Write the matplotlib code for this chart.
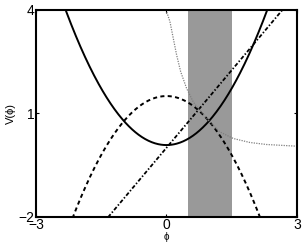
import numpy as np
import matplotlib
matplotlib.use('Agg')
import matplotlib.pyplot as plt

# curve parameters
quad_min = 0.08      # solid: V = quad_min + quad_a * phi^2
quad_a = 0.73
hill_top = 1.5       # dashed: V = hill_top - hill_b * phi^2
hill_b = 0.76
line_slope = 1.5     # dash-dot: V = line_slope * phi
band = [0.5, 1.5]

# dotted grey curve
dot_phi = [-0.01, 0.08, 0.156, 0.234, 0.326, 0.464, 0.616, 0.731, 1.0,
           1.23, 1.536, 1.92, 2.30, 3.0]
dot_v = [4.0, 3.66, 3.18, 2.69, 2.21, 1.72, 1.33, 1.14, 0.75,
         0.46, 0.27, 0.154, 0.096, 0.047]

x_ticks = [-3, 0, 3]
y_ticks = [-2, 1, 4]

plt.rcParams['font.family'] = ['Liberation Sans', 'DejaVu Sans']

phi = np.linspace(-3, 3, 400)

fig = plt.figure(figsize=(3.04, 2.45), dpi=100)
ax = fig.add_axes([0.118, 0.115, 0.859, 0.845])

ax.axvspan(band[0], band[1], color='#999999', lw=0, zorder=0)
ax.plot(phi, quad_min + quad_a * phi**2, 'k-', lw=1.4)
ax.plot(phi, hill_top - hill_b * phi**2, 'k--', lw=1.4, dashes=(2.1, 1.7))
ax.plot(phi, line_slope * phi, 'k-.', lw=1.3, dashes=(2.2, 1.1, 0.8, 1.1))
ax.plot(dot_phi, dot_v, color='#808080', lw=0.9, dashes=(1, 1))

ax.set_xlim(-3, 3)
ax.set_ylim(-2, 4)
ax.set_xticks(x_ticks)
ax.set_yticks(y_ticks)
ax.tick_params(direction='in', length=2, width=0.8, labelsize=10, pad=1,
               top=True, right=True)
for s in ax.spines.values():
    s.set_linewidth(1.5)
ax.set_xlabel('\u03d5', fontsize=7, labelpad=0)
ax.set_ylabel('V(\u03d5)', fontsize=8, labelpad=2)

fig.savefig('out.png', dpi=100)
